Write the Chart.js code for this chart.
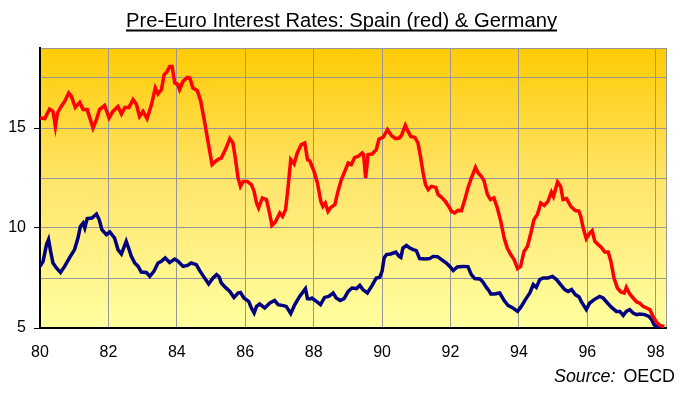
<!DOCTYPE html>
<html lang="en">
<head>
    <meta charset="UTF-8">
    <title>Pre-Euro Interest Rates</title>
    <script src="https://cdn.jsdelivr.net/npm/chart.js"></script>
    <style>
        body { margin: 0; background: #fff; }
        canvas { display: block; }
    </style>
</head>
<body>
    <canvas id="rateChart" width="681" height="393"></canvas>
    <script>
        // values (year 80 = 1980)
        let spainYears = [80.0, 80.14, 80.28, 80.38, 80.45, 80.51, 80.62, 80.72, 80.84, 80.92, 81.03, 81.16, 81.26, 81.38, 81.55, 81.65, 81.74, 81.89,
            82.02, 82.13, 82.28, 82.38, 82.48, 82.6, 82.72, 82.82, 82.91, 83.01, 83.13, 83.26, 83.37, 83.45, 83.55, 83.63, 83.71, 83.79, 83.86, 83.94,
            84.02, 84.08, 84.18, 84.31, 84.38, 84.47, 84.6, 84.7, 84.8, 84.91, 85.03, 85.13, 85.22, 85.3, 85.42, 85.55, 85.64, 85.71, 85.79, 85.86, 85.94,
            86.06, 86.18, 86.26, 86.33, 86.39, 86.5, 86.62, 86.72, 86.78, 86.88, 87.01, 87.09, 87.18, 87.25, 87.33, 87.43, 87.52, 87.64, 87.74, 87.82, 87.89,
            88.01, 88.11, 88.21, 88.27, 88.34, 88.42, 88.5, 88.62, 88.71, 88.81, 88.91, 89.01, 89.1, 89.2, 89.3, 89.42, 89.46, 89.52, 89.59, 89.71, 89.83, 89.91,
            90.03, 90.16, 90.27, 90.39, 90.5, 90.57, 90.68, 90.76, 90.84, 90.96, 91.05, 91.13, 91.2, 91.27, 91.35, 91.44, 91.57, 91.64, 91.74, 91.85, 91.95,
            92.03, 92.12, 92.22, 92.32, 92.42, 92.51, 92.61, 92.73, 92.81, 92.9, 92.98, 93.08, 93.17, 93.27, 93.37, 93.47, 93.57, 93.66, 93.76, 93.86, 93.96,
            94.05, 94.15, 94.25, 94.35, 94.44, 94.54, 94.64, 94.74, 94.85, 94.95, 95.01, 95.13, 95.22, 95.29, 95.39, 95.52, 95.65, 95.75, 95.81, 95.88, 95.97,
            96.07, 96.14, 96.22, 96.32, 96.41, 96.51, 96.61, 96.69, 96.78, 96.88, 96.98, 97.08, 97.14, 97.24, 97.34, 97.44, 97.53, 97.63, 97.73, 97.83, 97.92,
            98.02, 98.12, 98.25];
        let spainRates = [15.5, 15.47, 15.95, 15.83, 15.08, 15.75, 16.08, 16.33, 16.75, 16.58, 16.03, 16.28, 15.92, 15.92, 15.0, 15.42, 15.92, 16.13,
            15.5, 15.83, 16.08, 15.7, 16.03, 16.03, 16.42, 16.17, 15.58, 15.83, 15.47, 16.17, 17.0, 16.7, 16.92, 17.67, 17.8, 18.08, 18.08, 17.25,
            17.2, 16.92, 17.33, 17.53, 17.5, 17.0, 16.87, 16.33, 15.42, 14.33, 13.17, 13.33, 13.45, 13.5, 13.92, 14.47, 14.25, 13.5, 12.5, 12.08, 12.33,
            12.33, 12.17, 11.83, 11.25, 11.0, 11.5, 11.42, 10.67, 10.13, 10.3, 10.75, 10.58, 10.92, 12.0, 13.42, 13.2, 13.75, 14.17, 14.25, 13.42, 13.35,
            12.83, 12.25, 11.33, 11.08, 11.25, 10.83, 11.03, 11.17, 11.83, 12.42, 12.83, 13.25, 13.17, 13.53, 13.58, 13.75, 13.67, 12.5, 13.67, 13.7, 13.92, 14.45,
            14.53, 14.92, 14.63, 14.47, 14.5, 14.63, 15.13, 14.83, 14.58, 14.53, 14.25, 13.5, 12.75, 12.17, 11.92, 12.08, 12.03, 11.67, 11.53, 11.33, 11.08,
            10.83, 10.75, 10.88, 10.87, 11.42, 12.0, 12.5, 13.03, 12.75, 12.58, 12.37, 11.67, 11.42, 11.5, 11.0, 10.33, 9.5, 9.0, 8.67, 8.42, 7.97,
            8.08, 8.83, 9.08, 9.75, 10.42, 10.67, 11.25, 11.13, 11.33, 11.8, 11.58, 12.3, 12.08, 11.42, 11.47, 11.08, 10.87, 10.85, 10.58, 10.0, 9.47,
            9.75, 9.87, 9.33, 9.17, 9.03, 8.8, 8.8, 8.33, 7.5, 7.0, 6.8, 6.75, 7.03, 6.7, 6.5, 6.3, 6.25, 6.08, 6.0, 5.92, 5.58,
            5.3, 5.13, 5.08];

        let germanyYears = [80.0, 80.09, 80.19, 80.25, 80.31, 80.38, 80.48, 80.6, 80.72, 80.87, 81.01, 81.11, 81.18, 81.26, 81.31, 81.38, 81.52, 81.65, 81.73, 81.81, 81.94,
            82.04, 82.18, 82.28, 82.38, 82.52, 82.6, 82.67, 82.77, 82.87, 82.96, 83.11, 83.21, 83.33, 83.45, 83.55, 83.66, 83.79, 83.94,
            84.04, 84.18, 84.31, 84.42, 84.57, 84.67, 84.8, 84.93, 85.06, 85.16, 85.24, 85.3, 85.42, 85.55, 85.67, 85.79, 85.86, 85.96,
            86.1, 86.18, 86.26, 86.33, 86.42, 86.57, 86.72, 86.86, 86.96, 87.11, 87.2, 87.33, 87.45, 87.59, 87.76, 87.82, 87.89, 87.95,
            88.08, 88.2, 88.32, 88.44, 88.57, 88.66, 88.78, 88.89, 89.01, 89.12, 89.25, 89.35, 89.44, 89.57, 89.71, 89.83, 89.93,
            90.0, 90.06, 90.13, 90.25, 90.4, 90.5, 90.55, 90.61, 90.71, 90.81, 90.91, 91.0, 91.1, 91.25, 91.39, 91.49, 91.62, 91.74, 91.88, 91.98,
            92.08, 92.2, 92.34, 92.51, 92.61, 92.71, 92.86, 92.95, 93.05, 93.13, 93.18, 93.29, 93.44, 93.57, 93.68, 93.8, 93.96,
            94.07, 94.19, 94.32, 94.42, 94.51, 94.61, 94.71, 94.85, 94.98, 95.1, 95.22, 95.34, 95.44, 95.54, 95.65, 95.76, 95.83, 95.97,
            96.07, 96.2, 96.36, 96.46, 96.59, 96.71, 96.85, 96.95, 97.05, 97.14, 97.24, 97.34, 97.44, 97.53, 97.68, 97.8, 97.88, 97.95,
            98.05, 98.22];
        let germanyRates = [8.08, 8.33, 9.17, 9.42, 8.83, 8.25, 8.0, 7.78, 8.08, 8.53, 8.92, 9.5, 10.08, 10.25, 10.0, 10.47, 10.5, 10.7, 10.42, 9.92, 9.67,
            9.8, 9.5, 8.92, 8.7, 9.33, 8.95, 8.58, 8.25, 8.08, 7.8, 7.78, 7.58, 7.83, 8.25, 8.33, 8.5, 8.28, 8.45,
            8.33, 8.08, 8.13, 8.25, 8.17, 7.87, 7.53, 7.2, 7.5, 7.67, 7.55, 7.25, 7.03, 6.83, 6.53, 6.75, 6.78, 6.5,
            6.33, 6.0, 5.75, 6.08, 6.2, 6.0, 6.25, 6.38, 6.17, 6.12, 6.08, 5.72, 6.17, 6.58, 6.97, 6.47, 6.45, 6.5,
            6.33, 6.17, 6.53, 6.58, 6.75, 6.5, 6.37, 6.47, 6.83, 7.0, 6.97, 7.13, 6.92, 6.75, 7.13, 7.5, 7.53,
            7.83, 8.5, 8.67, 8.7, 8.8, 8.58, 8.53, 9.0, 9.13, 9.0, 8.92, 8.87, 8.47, 8.45, 8.47, 8.58, 8.57, 8.42, 8.25, 8.08,
            7.87, 8.05, 8.08, 8.07, 7.67, 7.47, 7.45, 7.3, 7.03, 6.85, 6.7, 6.7, 6.75, 6.37, 6.13, 6.03, 5.83,
            6.08, 6.42, 6.75, 7.17, 7.03, 7.42, 7.5, 7.5, 7.58, 7.42, 7.17, 6.92, 6.83, 6.92, 6.67, 6.55, 6.3, 5.92,
            6.25, 6.42, 6.58, 6.5, 6.25, 6.03, 5.83, 5.83, 5.63, 5.83, 5.92, 5.75, 5.67, 5.7, 5.67, 5.58, 5.42, 5.17,
            5.03, 5.03];

        let xTicks = [80, 82, 84, 86, 88, 90, 92, 94, 96, 98];
        let yTicks = [5, 7.5, 10, 12.5, 15, 17.5];
        let yLabels = [5, 10, 15];

        function toPoints(xs, ys) {
            return xs.map((x, i) => ({ x: x, y: ys[i] }));
        }

        // gradient background, title and source note
        const decorPlugin = {
            id: "decor",
            beforeDraw(chart) {
                let ctx = chart.ctx;
                let a = chart.chartArea;
                let g = ctx.createLinearGradient(0, a.top, 0, a.bottom);
                g.addColorStop(0, "#ffcb05");
                g.addColorStop(0.5, "#ffe66e");
                g.addColorStop(1, "#ffffa0");
                ctx.save();
                ctx.fillStyle = g;
                ctx.fillRect(a.left, a.top, a.right - a.left, a.bottom - a.top);
                ctx.restore();
            },
            afterDraw(chart) {
                let ctx = chart.ctx;
                ctx.save();
                ctx.fillStyle = "#000";
                ctx.textBaseline = "alphabetic";

                // title, slightly condensed like the original
                let title = "Pre-Euro Interest Rates: Spain (red) & Germany";
                ctx.font = '20px "Liberation Sans", Arial, sans-serif';
                let w = ctx.measureText(title).width;
                let sx = 431 / w;
                ctx.save();
                ctx.translate(126, 27);
                ctx.scale(sx, 1);
                ctx.fillText(title, 0, 0);
                ctx.restore();
                ctx.fillRect(126, 29.5, 431, 2);

                // source line
                ctx.font = 'italic 18px "Liberation Sans", Arial, sans-serif';
                let s1 = "Source:";
                let w1 = ctx.measureText(s1).width;
                ctx.font = '18px "Liberation Sans", Arial, sans-serif';
                let s2 = "OECD";
                let w2 = ctx.measureText(s2).width;
                let gap = 8;
                let ss = 121 / (w1 + gap + w2);
                ctx.save();
                ctx.translate(554, 382);
                ctx.scale(ss, 1);
                ctx.font = 'italic 18px "Liberation Sans", Arial, sans-serif';
                ctx.fillText(s1, 0, 0);
                ctx.font = '18px "Liberation Sans", Arial, sans-serif';
                ctx.fillText(s2, w1 + gap, 0);
                ctx.restore();
                ctx.restore();
            }
        };

        let ctx = document.getElementById("rateChart").getContext("2d");
        let rateChart = new Chart(ctx, {
            type: "line",
            data: {
                datasets: [{
                    label: "Spain",
                    data: toPoints(spainYears, spainRates),
                    borderColor: "#ff0000",
                    borderWidth: 3.5,
                    pointRadius: 0,
                    tension: 0
                }, {
                    label: "Germany",
                    data: toPoints(germanyYears, germanyRates),
                    borderColor: "#000080",
                    borderWidth: 3.5,
                    pointRadius: 0,
                    tension: 0
                }]
            },
            options: {
                responsive: false,
                animation: false,
                devicePixelRatio: 1,
                layout: { padding: { top: 48, right: 15, left: 0, bottom: 0 } },
                plugins: {
                    legend: { display: false },
                    title: { display: false },
                    tooltip: { enabled: false }
                },
                scales: {
                    x: {
                        type: "linear",
                        min: 80,
                        max: 98.3,
                        afterBuildTicks: scale => {
                            scale.ticks = xTicks.map(v => ({ value: v })).concat([{ value: 98.3 }]);
                        },
                        afterFit: scale => { scale.height = 65; },
                        ticks: {
                            autoSkip: false,
                            maxRotation: 0,
                            padding: 15,
                            color: "#000",
                            font: { family: '"Liberation Sans", Arial, sans-serif', size: 16 },
                            callback: v => xTicks.includes(v) ? String(v) : ""
                        },
                        grid: { color: "#969696", lineWidth: 1, drawTicks: false },
                        border: { color: "#000", width: 2 }
                    },
                    y: {
                        min: 5,
                        max: 19,
                        afterBuildTicks: scale => {
                            scale.ticks = yTicks.map(v => ({ value: v })).concat([{ value: 19 }]);
                        },
                        afterFit: scale => { scale.width = 40; },
                        ticks: {
                            autoSkip: false,
                            padding: 8,
                            color: "#000",
                            font: { family: '"Liberation Sans", Arial, sans-serif', size: 16 },
                            callback: v => yLabels.includes(v) ? String(v) : ""
                        },
                        grid: {
                            color: "#969696",
                            lineWidth: 1,
                            tickLength: 6,
                            tickColor: c => (c.tick && yLabels.includes(c.tick.value)) ? "#000" : "rgba(0,0,0,0)"
                        },
                        border: { color: "#000", width: 2 }
                    }
                }
            },
            plugins: [decorPlugin]
        });
    </script>
</body>
</html>
